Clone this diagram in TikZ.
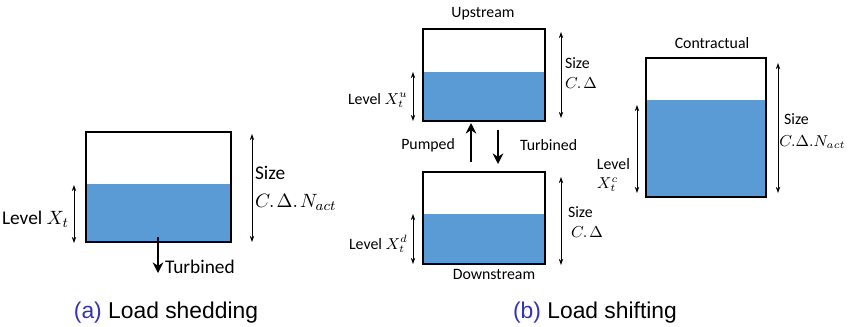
\documentclass[tikz,border=0pt]{standalone}
\usepackage{fontspec}
\setmainfont{Carlito}
\newfontfamily\capfont{Liberation Sans}
\usepackage{tikz}
\usetikzlibrary{arrows.meta}
\definecolor{waterblue}{HTML}{5B9BD5}
\definecolor{capblue}{HTML}{3333B3}

\begin{document}
\begin{tikzpicture}[x=0.02cm,y=-0.02cm,
    tank/.style={draw=black,line width=1.2pt},
    water/.style={fill=waterblue},
    dim/.style={{Stealth[length=3.5pt,width=2.5pt]}-{Stealth[length=3.5pt,width=2.5pt]},line width=0.5pt},
    flow/.style={-{Stealth[length=6pt,width=6pt]},line width=1.3pt},
    lbl/.style={inner sep=1pt,font=\fontsize{11}{13}\selectfont},
    slbl/.style={inner sep=1pt,font=\fontsize{9}{11}\selectfont},
    captext/.style={font=\capfont\fontsize{13}{15}\selectfont}]
  \useasboundingbox (0,0) rectangle (848,326);

  % (a) load shedding tank
  \fill[water] (86,184) rectangle (231,242);
  \draw[tank] (86,132) rectangle (231,242);
  \draw[dim] (74,185) -- (74,243);
  \draw[dim] (252,134) -- (252,242);
  \node[lbl,anchor=east] (lvla) at (71,219) {Level $X_t$};
  \node[lbl,anchor=west] (sizea) at (253,173) {Size};
  \node[lbl,anchor=west] (capa) at (253,202) {$C.\mkern2mu\Delta.\mkern2mu N_{act}$};
  \draw[flow] (158,237) -- (158,273);
  \node[lbl,anchor=west] (turba) at (163,267) {Turbined};

  % (b) upstream tank
  \node[slbl] (up) at (483,14) {Upstream};
  \fill[water] (423,72) rectangle (545,121);
  \draw[tank] (423,29) rectangle (545,121);
  \draw[dim] (413,72) -- (413,121);
  \draw[dim] (561,32) -- (561,118);
  \node[slbl,anchor=east] (lvlu) at (410,100) {Level $X_t^u$};
  \node[slbl,anchor=west] (sizeu) at (563,63) {Size};
  \node[slbl,anchor=west] (capu) at (563,83) {$C.\mkern2mu\Delta$};

  % pumping / turbining between the two
  \draw[flow] (471,162) -- (471,123);
  \draw[flow] (498,130) -- (498,164);
  \node[slbl,anchor=east] (pump) at (457,145) {Pumped};
  \node[slbl,anchor=west] (turbb) at (518,145) {Turbined};

  % (b) downstream tank
  \fill[water] (423,214) rectangle (545,264);
  \draw[tank] (423,172) rectangle (545,264);
  \draw[dim] (413,214) -- (413,264);
  \draw[dim] (561,177) -- (561,265);
  \node[slbl,anchor=east] (lvld) at (410,244) {Level $X_t^d$};
  \node[slbl,anchor=west] (sized) at (566,212) {Size};
  \node[slbl,anchor=west] (capd) at (569,232) {$C.\mkern2mu\Delta$};
  \node[slbl] (down) at (494,274) {Downstream};

  % (b) contractual tank
  \node[slbl] (contr) at (712,43) {Contractual};
  \fill[water] (646,100) rectangle (766,197);
  \draw[tank] (646,58) rectangle (766,197);
  \draw[dim] (637,105) -- (637,193);
  \draw[dim] (778,63) -- (778,193);
  \node[slbl,anchor=east,align=left] (lvlc) at (632,175) {Level\\$X_t^c$};
  \node[slbl,anchor=west] (sizec) at (782,119) {Size};
  \node[slbl,inner sep=0pt,anchor=west] (capc) at (779,142) {$C.\Delta.N_{act}$};

  % captions
  \node[captext] (capta) at (166,313) {\textcolor{capblue}{(a)} Load shedding};
  \node[captext] (captb) at (595,313) {\textcolor{capblue}{(b)} Load shifting};
\end{tikzpicture}
\end{document}
